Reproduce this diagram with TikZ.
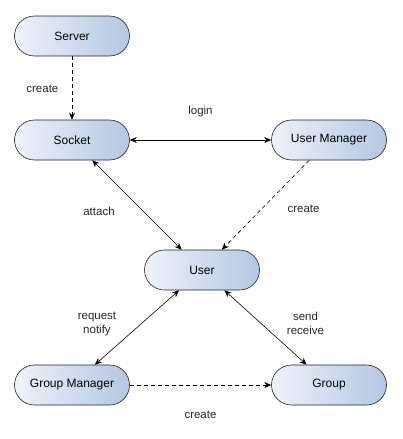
\documentclass[tikz,border=0pt]{standalone}
\usepackage{fontspec}
\setmainfont{Liberation Sans}
\usetikzlibrary{arrows.meta, positioning}
\definecolor{boxleft}{HTML}{EEF2FA}
\definecolor{boxright}{HTML}{B4C7E2}
\definecolor{boxline}{HTML}{222222}
\tikzstyle{arrow} = [line width=0.6pt, -{Stealth[length=7pt, width=6pt]}]
\tikzstyle{twoway} = [line width=0.6pt, {Stealth[length=7pt, width=6pt]}-{Stealth[length=7pt, width=6pt]}]
\tikzstyle{dashline} = [dash pattern=on 4pt off 3pt]
\tikzstyle{entity} = [
rectangle, rounded corners=20pt, minimum width=115pt, minimum height=40pt,
text centered, draw=boxline, line width=0.6pt, left color=boxleft, right color=boxright,
font=\fontsize{12}{14}\selectfont
]
\tikzstyle{lbl} = [font=\fontsize{11.5}{14}\selectfont, align=center, text=black!85]

\begin{document}
\begin{tikzpicture}[x=1pt, y=1pt]
			\useasboundingbox (0,0) rectangle (402,-439);
			% Nodes
			\node (Server) [entity] at (72,-36) {Server};
			\node (Socket) [entity] at (72,-140) {Socket};
			\node (UserManager) [entity] at (329,-140) {User Manager};
			\node (User) [entity] at (202,-270) {User};
			\node (GroupManager) [entity] at (72,-385) {Group Manager};
			\node (Group) [entity] at (329,-385) {Group};

			% Connections
			\draw [arrow, dashline] (Server) -- node[lbl, midway, left=10pt, yshift=-1pt] {create} (Socket);
			\draw [twoway] (Socket) -- node[lbl, midway, above=19pt] {login} (UserManager);
			\draw [twoway] (Socket) -- node[lbl, midway, xshift=-38pt, yshift=-6pt] {attach} (User);
			\draw [arrow, dashline] (UserManager) -- node[lbl, midway, xshift=38pt, yshift=-4pt] {create} (User);
			\draw [twoway] (User) -- node[lbl, midway, xshift=-40pt, yshift=4pt] {request\\notify} (GroupManager);
			\draw [twoway] (User) -- node[lbl, midway, xshift=40pt, yshift=4pt] {send\\receive} (Group);
			\draw [arrow, dashline] (GroupManager) -- node[lbl, midway, below=22pt] {create} (Group);

		\end{tikzpicture}
\end{document}
